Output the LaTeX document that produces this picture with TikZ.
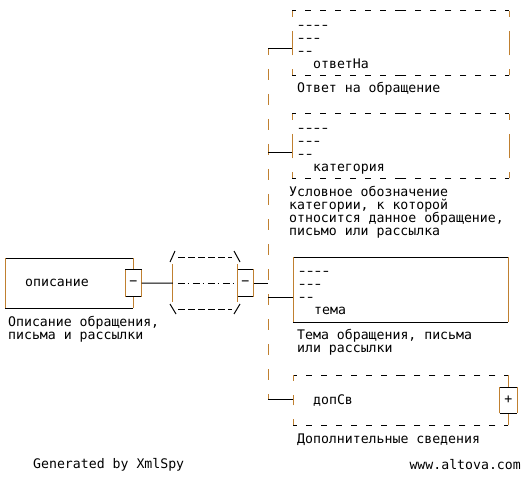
\documentclass[tikz,border=0pt]{standalone}
\usepackage{fontspec}
\setmonofont{DejaVu Sans Mono}
\usepackage{graphicx}
\usepackage{tikz}
\usetikzlibrary{positioning,calc}

\definecolor{edgeorange}{RGB}{192,128,48}
\newcommand{\diagfont}{\ttfamily\fontsize{13.2pt}{12.8pt}\selectfont\lineskiplimit=-20pt}
% a hyphen as wide as the one in the picture
\newcommand{\dsh}{\makebox[0.602em]{\scalebox{1.35}[1]{-}}}

% black top and bottom, orange sides
\newcommand{\solidedges}[1]{%
  \draw[hline] (#1.north west) -- (#1.north east) (#1.south west) -- (#1.south east);
  \draw[vline] (#1.north west) -- (#1.south west) (#1.north east) -- (#1.south east);}
% optional element: dashed from the corners in
\newcommand{\dashedges}[1]{%
  \draw[hdash] (#1.north west) -- (#1.north) (#1.north east) -- (#1.north)
               (#1.south west) -- (#1.south) (#1.south east) -- (#1.south);
  \draw[vdash] (#1.north west) -- (#1.west) (#1.south west) -- (#1.west)
               (#1.north east) -- (#1.east) (#1.south east) -- (#1.east);}

\tikzset{
  every node/.style={font=\diagfont},
  hline/.style={black, line width=1pt},
  vline/.style={edgeorange, line width=1pt},
  hdash/.style={hline, dash pattern=on 6pt off 9pt, dash phase=2pt},
  vdash/.style={vline, dash pattern=on 6pt off 14pt on 12pt off 14pt},
  spine/.style={vline, dash pattern=on 11pt off 14pt, dash phase=5pt},
  conn/.style={black, line width=1pt},
  elem/.style={anchor=north west, inner sep=0pt},
  elemtext/.style={inner sep=0pt, align=left},
  minbox/.style={fill=white, minimum width=16pt, minimum height=27pt, inner sep=0pt},
  note/.style={anchor=north west, inner sep=0pt, align=left},
  foot/.style={inner sep=0pt}
}

\begin{document}
\begin{tikzpicture}[x=1pt,y=-1pt]
\useasboundingbox (0,0) rectangle (529,478);

% root element
\node[elem, minimum width=128pt, minimum height=50pt, text width=88pt, inner xsep=20pt, align=left] (desc) at (5,258) {описание};
\solidedges{desc}
\node[minbox] (descMin) at (desc.east) {−};
\solidedges{descMin}
\node[note, below right=8pt and 3pt of desc.south west] (descNote) {Описание обращения,\\письма и рассылки};

% sequence
\node[minimum width=64pt, minimum height=38pt, inner sep=0pt] (seq) at (205,283) {};
\draw[vline] (seq.north west) -- (seq.south west) (seq.north east) -- (seq.south east);
\draw[hline] (170,262) -- (175,251);
\draw[hline, dash pattern=on 7pt off 3pt] (178,257) -- (232,257);
\draw[hline] (234,251) -- (240,262);
\draw[hline] (170,304) -- (176,314);
\draw[hline, dash pattern=on 7pt off 3pt] (178,309) -- (232,309);
\draw[hline] (234,314) -- (240,304);
\draw[hline, dash pattern=on 7pt off 3pt on 1.5pt off 3.5pt] ([xshift=5pt]seq.west) -- (seq.east);
\node[minbox, anchor=west] (seqMin) at (seq.east) {−};
\solidedges{seqMin}
\draw[conn] (descMin.east) -- (seq.west);

% children
\node[elem, minimum width=217pt, minimum height=64pt] (otv) at (292,11) {};
\dashedges{otv}
\node[elemtext, below right=14.5pt and 5pt of otv.north west] (otvText) {\dsh\dsh\dsh\dsh\\\dsh\dsh\dsh\\\dsh\dsh\\\hspace*{16pt}ответНа};
\node[note, below right=7pt and 5pt of otv.south west] (otvNote) {Ответ на обращение};

\node[elem, minimum width=217pt, minimum height=64pt] (kat) at (292,114) {};
\dashedges{kat}
\node[elemtext, below right=14.5pt and 5pt of kat.north west] (katText) {\dsh\dsh\dsh\dsh\\\dsh\dsh\dsh\\\dsh\dsh\\\hspace*{16pt}категория};
\node[note, below right=8pt and -3pt of kat.south west] (katNote) {Условное обозначение\\категории, к которой\\относится данное обращение,\\письмо или рассылка};

\node[elem, minimum width=215pt, minimum height=65pt] (tema) at (293,257) {};
\solidedges{tema}
\node[elemtext, below right=14.5pt and 5pt of tema.north west] (temaText) {\dsh\dsh\dsh\dsh\\\dsh\dsh\dsh\\\dsh\dsh\\\hspace*{16pt}тема};
\node[note, below right=7pt and 4pt of tema.south west] (temaNote) {Тема обращения, письма\\или рассылки};

\node[elem, minimum width=215pt, minimum height=50pt, text width=175pt, inner xsep=20pt, align=left] (dop) at (293,375) {допСв};
\dashedges{dop}
\draw[vline] (dop.north east) -- (dop.south east);
\node[minbox, minimum width=17pt, minimum height=26pt] (dopPlus) at (dop.east) {+};
\solidedges{dopPlus}
\node[note, below right=8pt and 4pt of dop.south west] (dopNote) {Дополнительные сведения};

% spine and branches
\coordinate (b1) at (268,49);
\coordinate (b2) at (268,153);
\coordinate (b3) at (268,297);
\coordinate (b4) at (268,399);
\coordinate (j) at (268,283);
\draw[spine] (b1) -- (b4);
\draw[conn] (seqMin.east) -- (j);
\draw[conn] (b1) -- (b1 -| otv.west);
\draw[conn] (b2) -- (b2 -| kat.west);
\draw[conn] (b3) -- (b3 -| tema.west);
\draw[conn] (b4) -- (b4 -| dop.west);

\node[foot, anchor=west] (gen) at (33,465) {Generated by XmlSpy};
\node[foot, anchor=east] (web) at (521,465) {www.altova.com};
\end{tikzpicture}
\end{document}
